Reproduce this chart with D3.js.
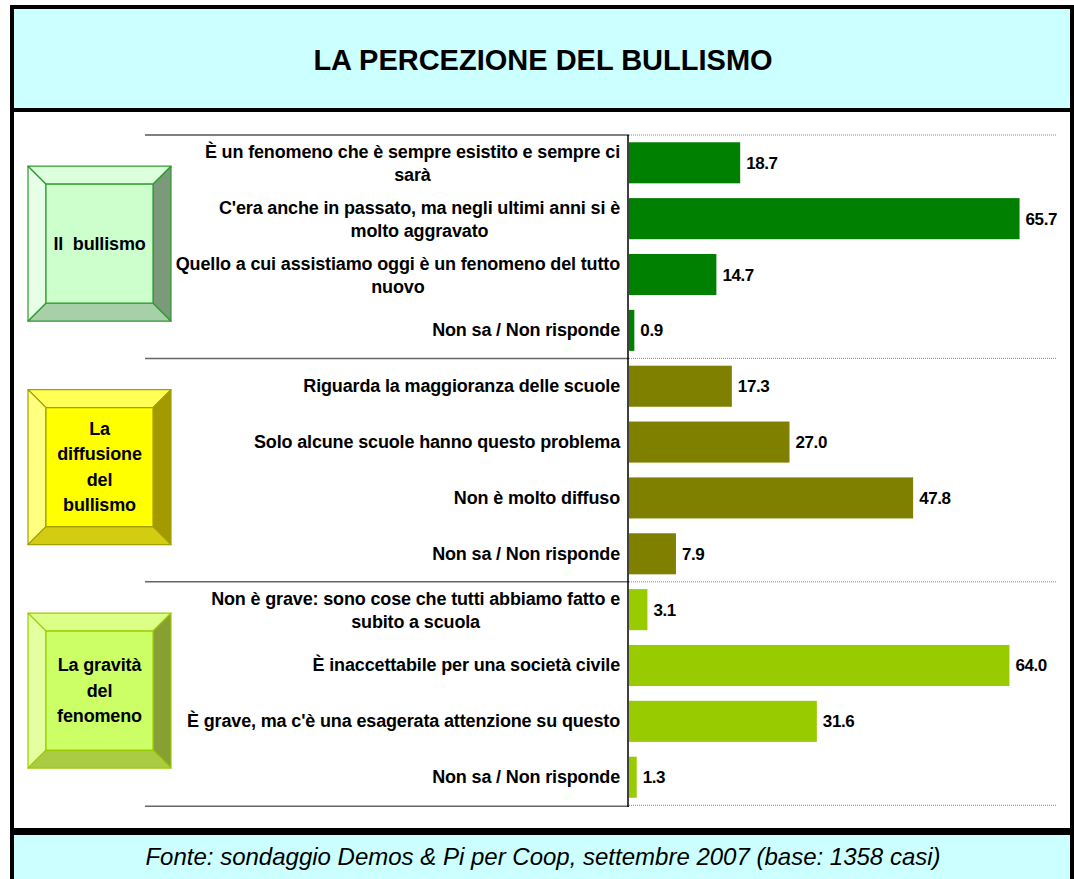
<!DOCTYPE html>
<html>
<head>
<meta charset="utf-8">
<script src="https://cdn.jsdelivr.net/npm/d3@7"></script>
<style>
  body { margin: 0; background: #fff; }
  svg { display: block; font-family: "Liberation Sans", Arial, sans-serif; }
  .lbl { font-weight: bold; font-size: 18px; fill: #000; letter-spacing: -0.15px; white-space: pre; }
  .val { font-weight: bold; font-size: 17px; fill: #000; letter-spacing: -0.4px; }
</style>
</head>
<body>
<div id="chart"></div>
<script>
// chart data
const titleText = "LA PERCEZIONE DEL BULLISMO";
const sourceText = "Fonte: sondaggio Demos & Pi per Coop, settembre 2007 (base: 1358 casi)";

const groupNames = [["Il  bullismo"], ["La", "diffusione", "del", "bullismo"], ["La gravità", "del", "fenomeno"]];

const categories = [
    "È un fenomeno che è sempre esistito e sempre ci\nsarà",
    "C'era anche in passato, ma negli ultimi anni si è\nmolto aggravato",
    "Quello a cui assistiamo oggi è un fenomeno del tutto\nnuovo",
    "Non sa / Non risponde",
    "Riguarda la maggioranza delle scuole",
    "Solo alcune scuole hanno questo problema",
    "Non è molto diffuso",
    "Non sa / Non risponde",
    "Non è grave: sono cose che tutti abbiamo fatto e\nsubito a scuola",
    "È inaccettabile per una società civile",
    "È grave, ma c'è una esagerata attenzione su questo",
    "Non sa / Non risponde"
];
const values = [18.7, 65.7, 14.7, 0.9, 17.3, 27.0, 47.8, 7.9, 3.1, 64.0, 31.6, 1.3];
const groupOf = [0, 0, 0, 0, 1, 1, 1, 1, 2, 2, 2, 2];

// colours per group
const barColors = ["#008000", "#808000", "#99cc00"];
const boxStyles = [
    {face: "#ccffcc", left: "#e6ffe6", top: "#dcffdc", right: "#7a9a7a", bottom: "#a8d0a8", stroke: "#2e9a2e"},
    {face: "#ffff00", left: "#ffff80", top: "#ffff55", right: "#a39a00", bottom: "#d4cc10", stroke: "#a3a000"},
    {face: "#ccff66", left: "#e4ffa0", top: "#dcff88", right: "#88a033", bottom: "#aacc44", stroke: "#99cc00"}
];

const W = 1074, H = 879;
const svg = d3.select("#chart").append("svg")
    .attr("width", W)
    .attr("height", H);

// frame: title box, main panel, footer
svg.append("rect").attr("x", 12).attr("y", 7).attr("width", 1060).attr("height", 103)
    .attr("fill", "#ccffff").attr("stroke", "#000").attr("stroke-width", 4);
svg.append("rect").attr("x", 12).attr("y", 110).attr("width", 1060).attr("height", 720)
    .attr("fill", "#fff").attr("stroke", "#000").attr("stroke-width", 4);
svg.append("rect").attr("x", 12).attr("y", 833).attr("width", 1060).attr("height", 50)
    .attr("fill", "#ccffff").attr("stroke", "#000").attr("stroke-width", 4);
svg.append("rect").attr("x", 10).attr("y", 828).attr("width", 1064).attr("height", 5).attr("fill", "#000");

svg.append("text")
    .attr("x", 543).attr("y", 70)
    .attr("text-anchor", "middle")
    .style("font-weight", "bold")
    .style("font-size", "29px")
    .text(titleText);

svg.append("text")
    .attr("x", 543).attr("y", 865)
    .attr("text-anchor", "middle")
    .style("font-style", "italic")
    .style("font-size", "24px")
    .text(sourceText);

// scales
const x = d3.scaleLinear()
    .domain([0, 72])
    .range([629, 1057]);

const y = d3.scaleBand()
    .domain(d3.range(categories.length))
    .range([135, 805])
    .paddingInner(0.265)
    .paddingOuter(0.13);

const step = y.step();

// group boundaries in y
const bounds = [0, 1, 2, 3].map(g => 135 + g * 4 * step);

// dotted gridlines on the plot side
svg.append("g").selectAll("line")
    .data(bounds)
    .join("line")
    .attr("x1", x(0)).attr("x2", x(72))
    .attr("y1", d => d).attr("y2", d => d)
    .attr("stroke", "#888")
    .attr("stroke-width", 1)
    .attr("stroke-dasharray", "1,1");

// solid separator lines on the label side
svg.append("g").selectAll("line")
    .data(bounds)
    .join("line")
    .attr("x1", 145).attr("x2", x(0))
    .attr("y1", (d, i) => i === 3 ? d + 1 : d).attr("y2", (d, i) => i === 3 ? d + 1 : d)
    .attr("stroke", (d, i) => i === 0 ? "#000" : "#666")
    .attr("stroke-width", (d, i) => i === 0 ? 1 : 1.5);

// bars
svg.append("g").selectAll("rect")
    .data(values)
    .join("rect")
    .attr("x", x(0))
    .attr("y", (d, i) => y(i))
    .attr("width", d => x(d) - x(0))
    .attr("height", y.bandwidth())
    .attr("fill", (d, i) => barColors[groupOf[i]]);

// axis line
svg.append("line")
    .attr("x1", x(0) - 1).attr("x2", x(0) - 1)
    .attr("y1", 135).attr("y2", 807)
    .attr("stroke", "#000").attr("stroke-width", 1.5);

// value labels
svg.append("g").selectAll("text")
    .data(values)
    .join("text")
    .attr("class", "val")
    .attr("x", d => x(d) + 6)
    .attr("y", (d, i) => y(i) + y.bandwidth() / 2 + 6)
    .text(d => d.toFixed(1));

// category labels, multi-line ones centred in their block
const labelRight = 620;
const lblG = svg.append("g");
categories.forEach((c, i) => {
    const lines = c.split("\n");
    const cy = y(i) + y.bandwidth() / 2;
    const t = lblG.append("text").attr("class", "lbl");
    if (lines.length === 1) {
        t.attr("x", labelRight).attr("y", cy + 6).attr("text-anchor", "end").text(c);
    } else {
        const spans = t.selectAll("tspan").data(lines).join("tspan").text(d => d);
        const widths = spans.nodes().map(n => n.getComputedTextLength());
        const mid = labelRight - d3.max(widths) / 2;
        t.attr("text-anchor", "middle");
        spans.attr("x", mid).attr("y", (d, k) => cy - 5 + k * 23.5);
    }
});

// bevelled group boxes
const boxW = 143, boxH = 155, bev = 18;
groupNames.forEach((names, g) => {
    const s = boxStyles[g];
    const gc = (bounds[g] + bounds[g + 1]) / 2 - 3;
    const x0 = 28, y0 = gc - boxH / 2, x1 = x0 + boxW, y1 = y0 + boxH;
    const box = svg.append("g");
    const poly = (pts, fill) => box.append("polygon")
        .attr("points", pts.map(p => p.join(",")).join(" "))
        .attr("fill", fill)
        .attr("stroke", s.stroke)
        .attr("stroke-width", 1.2)
        .attr("stroke-linejoin", "round");
    poly([[x0, y0], [x1, y0], [x1 - bev, y0 + bev], [x0 + bev, y0 + bev]], s.top);
    poly([[x0, y0], [x0 + bev, y0 + bev], [x0 + bev, y1 - bev], [x0, y1]], s.left);
    poly([[x1, y0], [x1, y1], [x1 - bev, y1 - bev], [x1 - bev, y0 + bev]], s.right);
    poly([[x0, y1], [x0 + bev, y1 - bev], [x1 - bev, y1 - bev], [x1, y1]], s.bottom);
    poly([[x0 + bev, y0 + bev], [x1 - bev, y0 + bev], [x1 - bev, y1 - bev], [x0 + bev, y1 - bev]], s.face);

    const lh = 25.5;
    const cx = (x0 + x1) / 2;
    const ty = (y0 + y1) / 2 - (names.length - 1) * lh / 2 + 6;
    box.append("text")
        .attr("class", "lbl")
        .attr("text-anchor", "middle")
        .selectAll("tspan")
        .data(names)
        .join("tspan")
        .attr("x", cx)
        .attr("y", (d, k) => ty + k * lh)
        .text(d => d);
});
</script>
</body>
</html>
